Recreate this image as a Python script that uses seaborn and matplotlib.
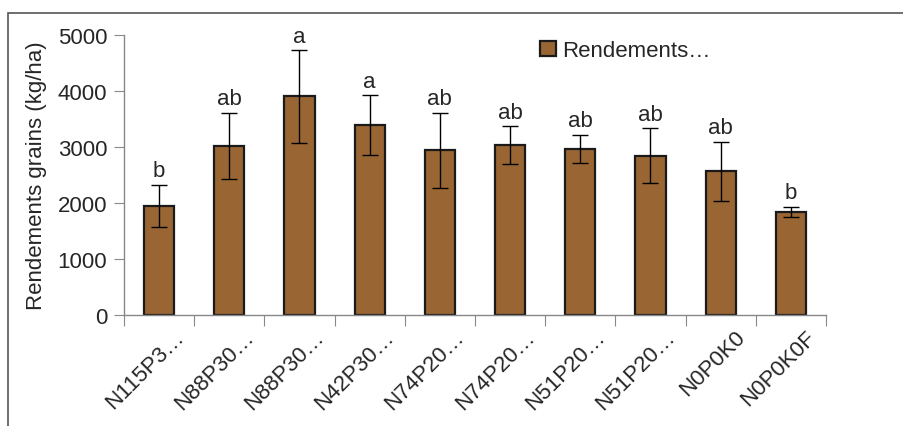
import numpy as np
import pandas as pd
import matplotlib
matplotlib.use("Agg")
import matplotlib.pyplot as plt
import seaborn as sns
from matplotlib.patches import Rectangle

# data
treatments = ["N115P3…", "N88P30…", "N88P30…", "N42P30…", "N74P20…",
              "N74P20…", "N51P20…", "N51P20…", "N0P0K0", "N0P0K0F"]
rendements = [1950, 3020, 3905, 3395, 2945, 3035, 2970, 2845, 2565, 1845]
erreurs = [375, 590, 825, 535, 670, 340, 250, 490, 530, 90]
lettres = ["b", "ab", "a", "a", "ab", "ab", "ab", "ab", "ab", "b"]

df = pd.DataFrame({"id": [f"T{i}" for i in range(len(treatments))],
                   "rendement": rendements})

sns.set_style("white")
plt.rcParams["font.family"] = ["Liberation Sans Narrow", "Liberation Sans", "DejaVu Sans"]
fs = 16

fig = plt.figure(figsize=(9.04, 4.27), dpi=100)
ax = fig.add_axes([124/904, 1-316/427, (826-124)/904, (316-36)/427])

brown = "#996633"
sns.barplot(data=df, x="id", y="rendement", color=brown, edgecolor="#1a1a1a",
            linewidth=1.6, width=0.43, saturation=1, errorbar=None, ax=ax,
            label="Rendements…")

x = np.arange(len(treatments))
ax.errorbar(x, rendements, yerr=erreurs, fmt="none", ecolor="black",
            elinewidth=1, capsize=6, capthick=1)

for xi, v, e, l in zip(x, rendements, erreurs, lettres):
    ax.text(xi, v + e + 60, l, ha="center", va="bottom", fontsize=fs)

ax.set_ylim(0, 5000)
ax.set_xlim(-0.5, len(treatments) - 0.5)
ax.set_yticks(range(0, 5001, 1000))
ax.tick_params(axis="y", labelsize=fs, length=7, color="#888888", direction="out", left=True, pad=5)

ax.set_xticks(np.arange(-0.5, len(treatments)), minor=False)
ax.set_xticklabels([])
ax.set_xticks(x + 0.2, minor=True)
ax.set_xticklabels(treatments, minor=True, rotation=45, ha="right",
                   rotation_mode="anchor", fontsize=fs)
ax.tick_params(axis="x", which="major", length=8, color="#888888", direction="out", bottom=True)
ax.tick_params(axis="x", which="minor", length=0, pad=8)

for s in ["top", "right"]:
    ax.spines[s].set_visible(False)
for s in ["left", "bottom"]:
    ax.spines[s].set_color("#888888")
    ax.spines[s].set_linewidth(1)

ax.set_xlabel("")
ax.set_ylabel("Rendements grains (kg/ha)", fontsize=fs, labelpad=8)

leg = ax.legend(loc="center left", bbox_to_anchor=(0.593, 0.943), frameon=False,
                fontsize=fs, handlelength=0.7, handleheight=0.7, handletextpad=0.3,
                borderaxespad=0, borderpad=0)

# outer chart frame
fig.patches.append(Rectangle((8/904, -0.2), 1.2, 1.2 - 14/427, transform=fig.transFigure,
                             fill=False, edgecolor="#555555", linewidth=1.2))

fig.savefig("out.png", dpi=100)
